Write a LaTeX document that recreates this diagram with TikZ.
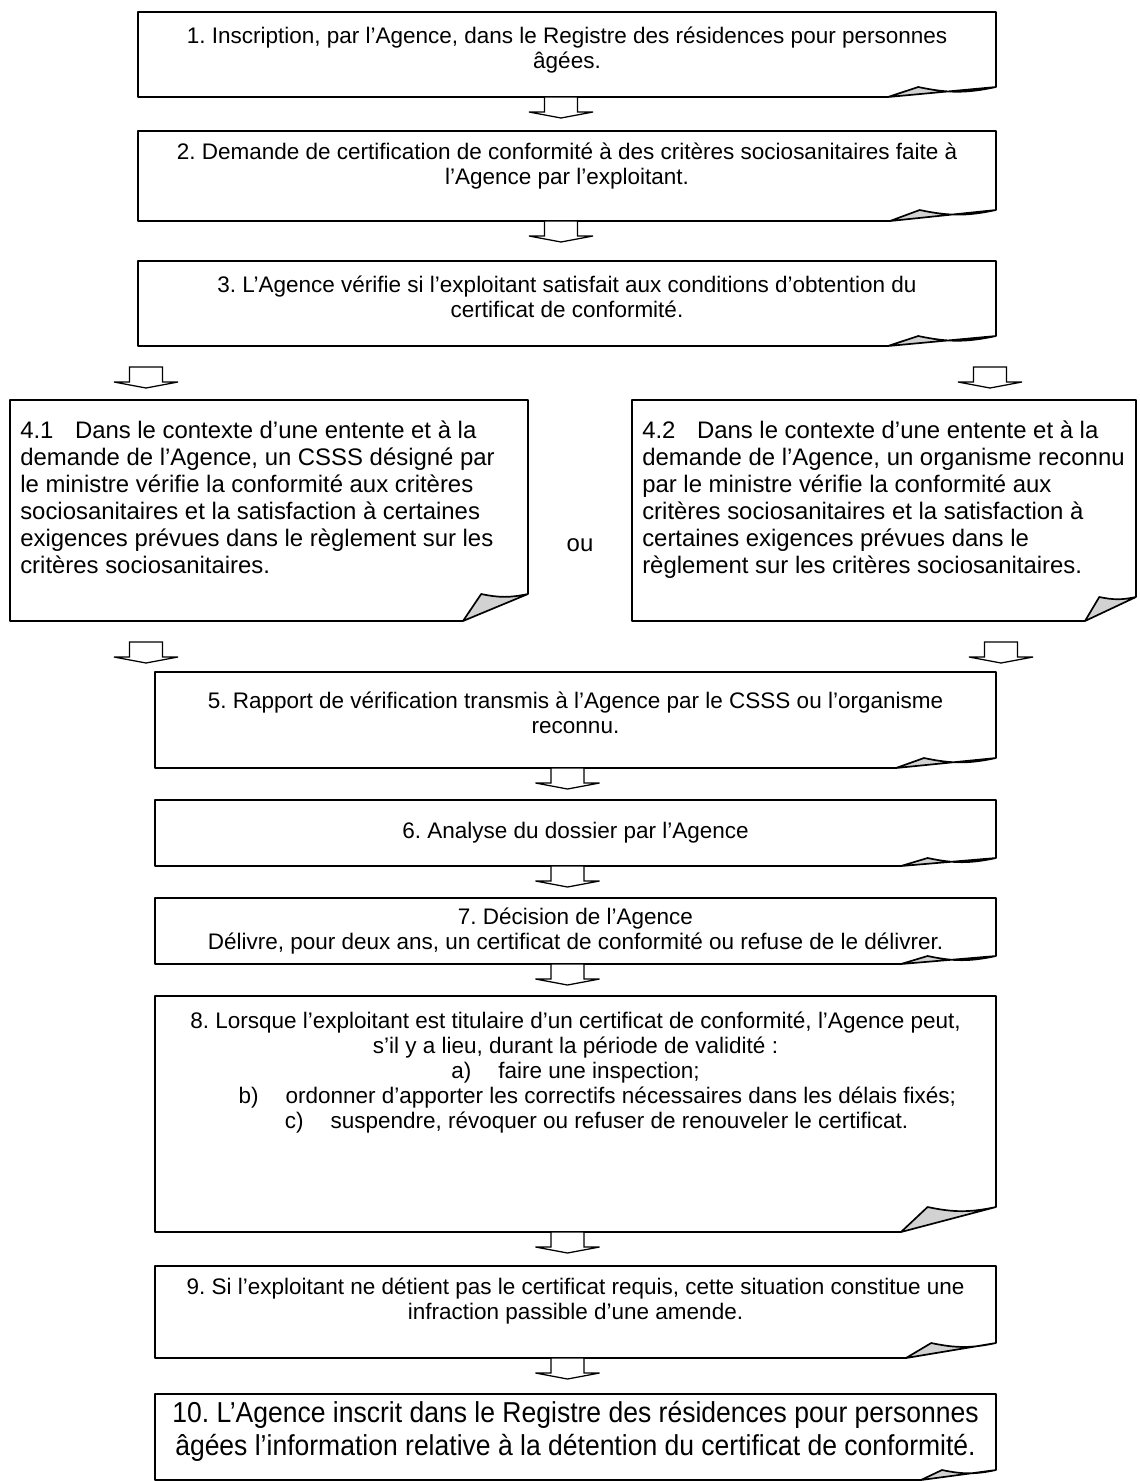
\documentclass[tikz,border=0pt]{standalone}
\usepackage{fontspec}
\setmainfont{Liberation Sans}
\newfontfamily\narrowsans[FakeStretch=0.92]{Liberation Sans}
\usetikzlibrary{positioning,fit,calc}

\tikzset{
  boxline/.style={line width=1.2pt, line join=round},
  arrowline/.style={line width=0.9pt, fill=white, line join=miter},
  frame/.style={inner sep=0pt, outer sep=0pt},
  txt/.style={inner sep=0pt, align=center, font=\fontsize{16}{17.8}\selectfont},
  sidetxt/.style={inner sep=0pt, align=left, font=\fontsize{17}{19.2}\selectfont},
}

% box with a curled lower right corner: node, curl width, curl height
\newcommand{\curlbox}[3]{%
  \draw[boxline] ($(#1.south east)+(0,-#3)$) -- (#1.north east) -- (#1.north west)
    -- (#1.south west) -- ($(#1.south east)+(-#2,0)$);
  \draw[boxline, fill=gray!35] ($(#1.south east)+(-#2,0)$) -- ($(#1.south east)+(-0.72*#2,-#3)$)
    to[bend right=12] ($(#1.south east)+(0,-#3)$) -- cycle;
}
% hollow block arrow hanging from a point
\newcommand{\flowarrow}[1]{%
  \draw[arrowline] (#1) ++(-16.5,0) -- ++(0,15) -- ++(-15.5,0) -- ++(32,6) -- ++(32,-6)
    -- ++(-15.5,0) -- ++(0,-15) -- cycle;
}

\begin{document}
\frenchspacing
\begin{tikzpicture}[x=0.025cm, y=-0.025cm]
\useasboundingbox (0,0) rectangle (1139,1481);

% frames
\node[frame, fit={(138,12) (996,97)}] (b1) {};
\node[frame, fit={(138,131) (996,221)}] (b2) {};
\node[frame, fit={(138,261) (996,346)}] (b3) {};
\node[frame, fit={(10,400) (528,621)}] (b41) {};
\node[frame, fit={(632,400) (1136,621)}] (b42) {};
\node[frame, fit={(155,672) (996,768)}] (b5) {};
\node[frame, fit={(155,800) (996,866)}] (b6) {};
\node[frame, fit={(155,898) (996,964)}] (b7) {};
\node[frame, fit={(155,996) (996,1232)}] (b8) {};
\node[frame, fit={(155,1266) (996,1358)}] (b9) {};
\node[frame, fit={(155,1394) (996,1480)}] (b10) {};

\curlbox{b1}{108}{10}
\curlbox{b2}{106}{11}
\curlbox{b3}{108}{10}
\curlbox{b41}{65}{27}
\curlbox{b42}{51}{24}
\curlbox{b5}{100}{10}
\curlbox{b6}{95}{8}
\curlbox{b7}{95}{8}
\curlbox{b8}{95}{25}
\curlbox{b9}{90}{15}
\curlbox{b10}{75}{10}

% texts
\node[txt, below=10.5pt of b1.north] (t1) {1. Inscription, par l’Agence, dans le Registre des résidences pour personnes\\âgées.};
\node[txt, below=8.5pt of b2.north] (t2) {2. Demande de certification de conformité à des critères sociosanitaires faite à\\l’Agence par l’exploitant.};
\node[txt, below=10.5pt of b3.north] (t3) {3. L’Agence vérifie si l’exploitant satisfait aux conditions d’obtention du\\certificat de conformité.};
\node[sidetxt, anchor=north west] (t41) at ($(b41.north west)+(10,21)$) {4.1\hspace{0.9em}Dans le contexte d’une entente et à la\\demande de l’Agence, un CSSS désigné par\\le ministre vérifie la conformité aux critères\\sociosanitaires et la satisfaction à certaines\\exigences prévues dans le règlement sur les\\critères sociosanitaires.};
\node[sidetxt, anchor=north west] (t42) at ($(b42.north west)+(10,21)$) {4.2\hspace{0.9em}Dans le contexte d’une entente et à la\\demande de l’Agence, un organisme reconnu\\par le ministre vérifie la conformité aux\\critères sociosanitaires et la satisfaction à\\certaines exigences prévues dans le\\règlement sur les critères sociosanitaires.};
\node[txt, font=\fontsize{17}{19.2}\selectfont] (ou) at (580,545) {ou};
\node[txt, below=14pt of b5.north] (t5) {5. Rapport de vérification transmis à l’Agence par le CSSS ou l’organisme\\reconnu.};
\node[txt, below=15.5pt of b6.north] (t6) {6. Analyse du dossier par l’Agence};
\node[txt, below=7pt of b7.north] (t7) {7. Décision de l’Agence\\Délivre, pour deux ans, un certificat de conformité ou refuse de le délivrer.};
\node[txt, below=11pt of b8.north] (t8) {8. Lorsque l’exploitant est titulaire d’un certificat de conformité, l’Agence peut,\\s’il y a lieu, durant la période de validité :\\a)\hspace{1.2em}faire une inspection;\\\hspace*{31pt}b)\hspace{1.2em}ordonner d’apporter les correctifs nécessaires dans les délais fixés;\\\hspace*{30pt}c)\hspace{1.2em}suspendre, révoquer ou refuser de renouveler le certificat.};
\node[txt, below=8pt of b9.north] (t9) {9. Si l’exploitant ne détient pas le certificat requis, cette situation constitue une\\infraction passible d’une amende.};
\node[txt, below=5pt of b10.north, font=\narrowsans\fontsize{20.5}{23.5}\selectfont] (t10) {10. L’Agence inscrit dans le Registre des résidences pour personnes\\âgées l’information relative à la détention du certificat de conformité.};

% arrows
\coordinate (l3) at ($(b3.south west)+(8,21)$);
\coordinate (r3) at ($(b3.south east)+(-6,21)$);
\coordinate (l4) at ($(b41.south west)+(136,21)$);
\coordinate (r4) at ($(b42.south east)+(-135,21)$);
\flowarrow{$(b1.south)+(-6,0)$}
\flowarrow{$(b2.south)+(-6,0)$}
\flowarrow{l3}
\flowarrow{r3}
\flowarrow{l4}
\flowarrow{r4}
\flowarrow{$(b5.south)+(-8,0)$}
\flowarrow{$(b6.south)+(-8,0)$}
\flowarrow{$(b7.south)+(-8,0)$}
\flowarrow{$(b8.south)+(-8,0)$}
\flowarrow{$(b9.south)+(-8,0)$}
\end{tikzpicture}
\end{document}
